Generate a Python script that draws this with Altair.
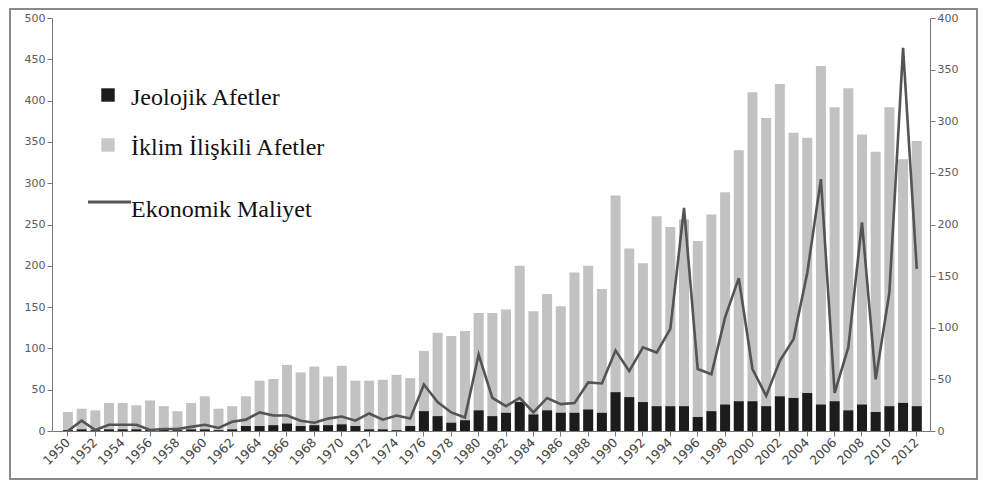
import altair as alt
import pandas as pd

years = list(range(1950, 2013))

# Jeolojik afetler (black bars, left axis)
jeolojik = [1, 2, 1, 2, 2, 2, 1, 2, 1, 2,
            2, 1, 2, 6, 6, 7, 9, 6, 7, 7,
            8, 6, 2, 2, 1, 6, 24, 18, 10, 13,
            25, 18, 22, 35, 20, 25, 22, 22, 26, 22,
            47, 41, 35, 30, 30, 30, 17, 24, 32, 36,
            36, 30, 42, 40, 46, 32, 36, 25, 32, 23,
            30, 34, 30]

# İklim ilişkili afetler (grey bars, stacked on top of jeolojik)
iklim = [22, 25, 24, 32, 32, 29, 36, 28, 23, 32,
         40, 26, 28, 36, 55, 56, 71, 65, 71, 59,
         71, 55, 59, 60, 67, 58, 73, 101, 105, 108,
         118, 125, 125, 165, 125, 141, 129, 170, 174, 150,
         238, 180, 168, 230, 217, 226, 213, 238, 257, 304,
         374, 349, 378, 321, 309, 410, 356, 390, 327, 315,
         362, 295, 321]

# Ekonomik maliyet (line, right axis)
maliyet = [0, 10, 1, 6, 6, 6, 1, 2, 2, 4,
           6, 3, 9, 11, 18, 15, 15, 10, 8, 12,
           14, 10, 17, 11, 15, 12, 45, 28, 18, 13,
           74, 32, 24, 32, 18, 32, 26, 27, 47, 46,
           78, 58, 81, 76, 99, 216, 60, 55, 110, 148,
           60, 34, 68, 89, 153, 244, 37, 81, 202, 50,
           134, 371, 157]

legend_labels = ["Jeolojik Afetler", "İklim İlişkili Afetler", "Ekonomik Maliyet"]

df = pd.DataFrame({"yil": years, "jeolojik": jeolojik, "iklim": iklim, "maliyet": maliyet})

axis_style = dict(domainColor="#777777", tickColor="#777777", tickSize=5,
                  labelColor="#5a5a5a", labelFont="DejaVu Sans", labelFontSize=11,
                  grid=False, title=None)

x = alt.X("yil:O",
          scale=alt.Scale(paddingInner=0.27, paddingOuter=0.7, align=0.57, round=False),
          axis=alt.Axis(values=years[::2], labelAngle=-45, labelAlign="right",
                        labelBaseline="middle", labelPadding=4, labelFontSize=12.5,
                        labelColor="#444444", **{k: v for k, v in axis_style.items()
                                                 if k not in ("labelFontSize", "labelColor")}))

left_axis = alt.Axis(values=list(range(0, 501, 50)), **axis_style)
left_scale = alt.Scale(domain=[0, 500], nice=False)

base = alt.Chart(df)

grey = base.transform_calculate(toplam="datum.jeolojik + datum.iklim").mark_bar(
    color="#c2c2c2").encode(x=x, y=alt.Y("toplam:Q", scale=left_scale, axis=left_axis))
black = base.mark_bar(color="#1c1c1c").encode(
    x=x, y=alt.Y("jeolojik:Q", scale=left_scale, axis=left_axis))
bars = alt.layer(grey, black)

line = base.mark_line(color="#545454", strokeWidth=2.6).encode(
    x=x,
    y=alt.Y("maliyet:Q", scale=alt.Scale(domain=[0, 400], nice=False),
            axis=alt.Axis(orient="right", values=list(range(0, 401, 50)), **axis_style)))

one = alt.Data(values=[{}])

frame = alt.Chart(one).mark_rect(filled=False, stroke="#8a8a8a", strokeWidth=2).encode(
    x=alt.value(-42), x2=alt.value(925), y=alt.value(-9), y2=alt.value(461))

font = dict(font="Liberation Serif", fontSize=24, color="#111111", align="left",
            baseline="alphabetic")

sq1 = alt.Chart(one).mark_square(color="#1c1c1c", size=180, opacity=1).encode(
    x=alt.value(56), y=alt.value(77))
sq2 = alt.Chart(one).mark_square(color="#c8c8c8", size=180, opacity=1).encode(
    x=alt.value(56), y=alt.value(127))
ln = alt.Chart(one).mark_rule(color="#575757", strokeWidth=3).encode(
    x=alt.value(36), x2=alt.value(79), y=alt.value(184))
t1 = alt.Chart(one).mark_text(text=legend_labels[0], **font).encode(
    x=alt.value(79), y=alt.value(87))
t2 = alt.Chart(one).mark_text(text=legend_labels[1], **font).encode(
    x=alt.value(79), y=alt.value(137))
t3 = alt.Chart(one).mark_text(text=legend_labels[2], **font).encode(
    x=alt.value(79), y=alt.value(199))

chart = alt.layer(bars, line, frame, sq1, sq2, ln, t1, t2, t3).resolve_scale(
    y="independent"
).properties(
    width=878, height=413,
    padding={"left": 44, "top": 10, "right": 49, "bottom": 49},
    autosize=alt.AutoSizeParams(type="none"),
    background="white",
).configure_view(strokeWidth=0)

chart.save("out.html", embed_options={"renderer": "svg", "actions": False})
